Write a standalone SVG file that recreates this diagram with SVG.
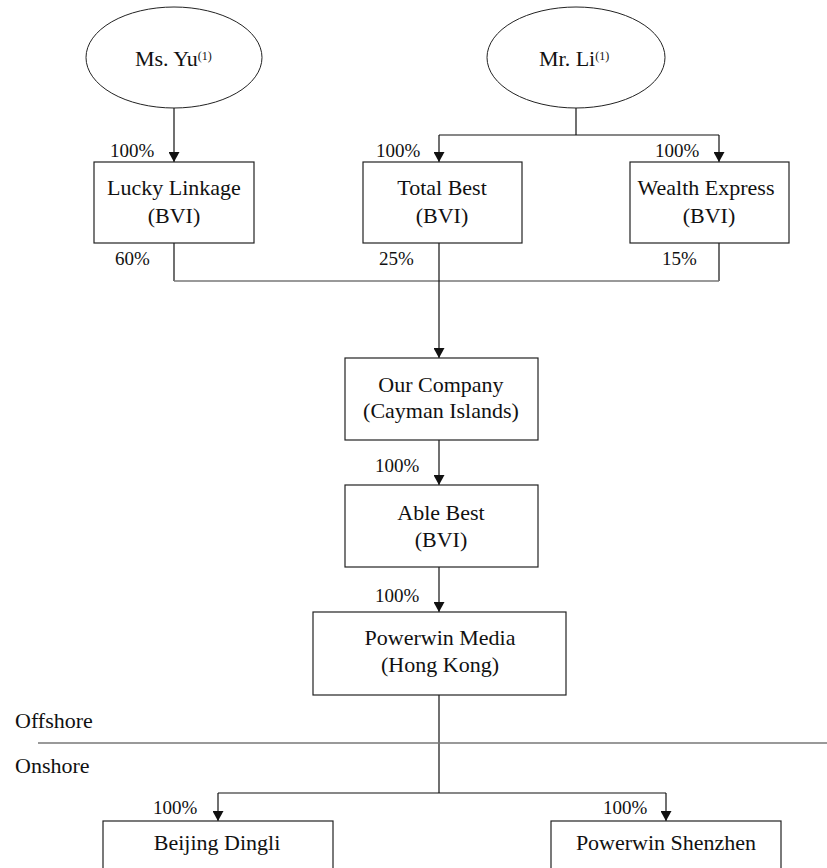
<svg xmlns="http://www.w3.org/2000/svg" width="827" height="868" viewBox="0 0 827 868">
<style>
.box{fill:#fff;stroke:#222;stroke-width:1.2}
.ell{fill:#fff;stroke:#222;stroke-width:1}
.lbl{font-family:"Liberation Serif","Times New Roman",serif;font-size:22px;fill:#111;text-anchor:middle}
.pct{font-family:"Liberation Serif","Times New Roman",serif;font-size:19px;fill:#111}
.sup{font-size:12px}
.ln{fill:none;stroke:#111;stroke-width:1.2}
.gl{fill:none;stroke:#777;stroke-width:1.3}
.ar{fill:none;stroke:#111;stroke-width:1.2;marker-end:url(#ah)}
</style>
<defs>
<marker id="ah" viewBox="0 0 10 11" refX="10" refY="5.5" markerWidth="10" markerHeight="11" markerUnits="userSpaceOnUse" orient="auto">
<path d="M0,0 L10,5.5 L0,11 z" fill="#111"/>
</marker>
</defs>
<g id="connectors">
<line class="ar" x1="174" y1="108" x2="174" y2="162"/>
<polyline class="ln" points="576,108 576,135"/>
<line class="ln" x1="439" y1="135" x2="719" y2="135"/>
<line class="ar" x1="439" y1="135" x2="439" y2="162"/>
<line class="ar" x1="719" y1="135" x2="719" y2="162"/>
<line class="ln" x1="174" y1="243" x2="174" y2="281"/>
<line class="ln" x1="719" y1="243" x2="719" y2="281"/>
<line class="gl" x1="174" y1="281" x2="719" y2="281"/>
<line class="ar" x1="439" y1="243" x2="439" y2="358"/>
<line class="ar" x1="439" y1="440" x2="439" y2="485"/>
<line class="ar" x1="439" y1="567" x2="439" y2="612"/>
<line class="ln" x1="439" y1="695" x2="439" y2="793"/>
<line class="ln" x1="218" y1="793" x2="666" y2="793"/>
<line class="ar" x1="218" y1="793" x2="218" y2="821"/>
<line class="ar" x1="666" y1="793" x2="666" y2="821"/>
<line class="gl" x1="38" y1="743" x2="827" y2="743"/>
</g>
<g id="ms-yu">
<ellipse class="ell" cx="174" cy="57.5" rx="88" ry="50.5"/>
<text class="lbl" x="135" y="66" style="text-anchor:start">Ms. Yu<tspan class="sup" dy="-6">(1)</tspan></text>
</g>
<g id="mr-li">
<ellipse class="ell" cx="576" cy="57.5" rx="89" ry="50.5"/>
<text class="lbl" x="539" y="66" style="text-anchor:start">Mr. Li<tspan class="sup" dy="-6">(1)</tspan></text>
</g>
<g id="lucky-linkage">
<rect class="box" x="94" y="162" width="160" height="81"/>
<text class="lbl" x="174" y="195">Lucky Linkage</text>
<text class="lbl" x="174" y="223">(BVI)</text>
</g>
<g id="total-best">
<rect class="box" x="363" y="162" width="159" height="81"/>
<text class="lbl" x="442" y="195">Total Best</text>
<text class="lbl" x="442" y="223">(BVI)</text>
</g>
<g id="wealth-express">
<rect class="box" x="630" y="162" width="159" height="81"/>
<text class="lbl" x="706" y="195">Wealth Express</text>
<text class="lbl" x="709" y="223">(BVI)</text>
</g>
<g id="our-company">
<rect class="box" x="345" y="358" width="193" height="82"/>
<text class="lbl" x="441" y="392">Our Company</text>
<text class="lbl" x="441" y="418">(Cayman Islands)</text>
</g>
<g id="able-best">
<rect class="box" x="345" y="485" width="193" height="82"/>
<text class="lbl" x="441" y="520">Able Best</text>
<text class="lbl" x="441" y="547">(BVI)</text>
</g>
<g id="powerwin-media">
<rect class="box" x="313" y="612" width="253" height="83"/>
<text class="lbl" x="440" y="645">Powerwin Media</text>
<text class="lbl" x="440" y="672">(Hong Kong)</text>
</g>
<g id="beijing-dingli">
<rect class="box" x="103" y="821" width="230" height="60"/>
<text class="lbl" x="217" y="850">Beijing Dingli</text>
</g>
<g id="powerwin-shenzhen">
<rect class="box" x="551" y="821" width="230" height="60"/>
<text class="lbl" x="666" y="850">Powerwin Shenzhen</text>
</g>
<g id="labels">
<text class="pct" x="110" y="157">100%</text>
<text class="pct" x="376" y="157">100%</text>
<text class="pct" x="655" y="157">100%</text>
<text class="pct" x="115" y="265">60%</text>
<text class="pct" x="379" y="265">25%</text>
<text class="pct" x="662" y="265">15%</text>
<text class="pct" x="375" y="472">100%</text>
<text class="pct" x="375" y="602">100%</text>
<text class="pct" x="153" y="814">100%</text>
<text class="pct" x="603" y="814">100%</text>
<text class="lbl" x="15" y="728" style="text-anchor:start">Offshore</text>
<text class="lbl" x="15" y="773" style="text-anchor:start">Onshore</text>
</g>
</svg>
